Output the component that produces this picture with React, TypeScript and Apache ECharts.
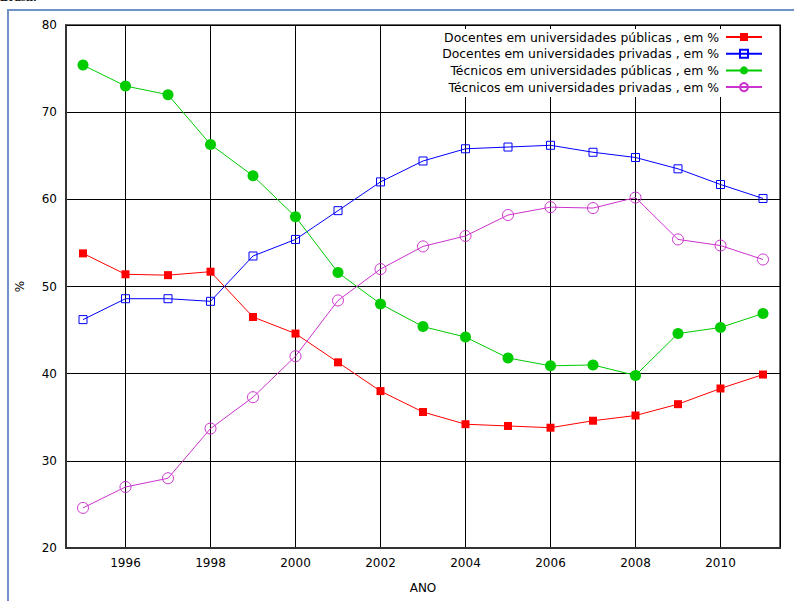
import React, { useEffect, useRef } from "react";
import * as echarts from "echarts";

// Share of staff in Brazilian universities, public vs private, 1995-2011
const years = [1995, 1996, 1997, 1998, 1999, 2000, 2001, 2002, 2003, 2004, 2005, 2006, 2007, 2008, 2009, 2010, 2011];
const docentesPublicas = [53.8, 51.4, 51.3, 51.7, 46.5, 44.6, 41.3, 38.0, 35.6, 34.2, 34.0, 33.8, 34.6, 35.2, 36.5, 38.3, 39.9];
const docentesPrivadas = [46.2, 48.6, 48.6, 48.3, 53.5, 55.4, 58.7, 62.0, 64.4, 65.8, 66.0, 66.2, 65.4, 64.8, 63.5, 61.7, 60.1];
const tecnicosPublicas = [75.4, 73.0, 72.0, 66.3, 62.7, 58.0, 51.6, 48.0, 45.4, 44.2, 41.8, 40.9, 41.0, 39.8, 44.6, 45.3, 46.9];
const tecnicosPrivadas = [24.6, 27.0, 28.0, 33.7, 37.3, 42.0, 48.4, 52.0, 54.6, 55.8, 58.2, 59.1, 59.0, 60.2, 55.4, 54.7, 53.1];

const seriesNames = [
  "Docentes em universidades públicas , em %",
  "Docentes em universidades privadas , em %",
  "Técnicos em universidades públicas , em %",
  "Técnicos em universidades privadas , em %",
];

const FONT = "DejaVu Sans";

const pairs = (vals: number[]) => years.map((y, i) => [y, vals[i]]);

export default function App() {
  const ref = useRef<HTMLDivElement>(null);

  useEffect(() => {
    if (!ref.current) return;
    const chart = echarts.init(ref.current, null, { renderer: "svg" });
    chart.setOption({
      animation: false,
      backgroundColor: "#ffffff",
      textStyle: { fontFamily: FONT },
      graphic: [
        {
          type: "text",
          left: 0,
          top: -10,
          style: { text: "Brasil.", font: "bold 13px serif", fill: "#111" },
        },
        {
          type: "rect",
          shape: { x: 8, y: 10, width: 900, height: 700 },
          style: { fill: "none", stroke: "#6f93c9", lineWidth: 2 },
          silent: true,
        },
      ],
      grid: {
        left: 66,
        top: 25,
        right: 14,
        bottom: 53,
        show: true,
        borderColor: "#333",
        borderWidth: 1.5,
        containLabel: false,
      },
      legend: {
        orient: "vertical",
        align: "right",
        right: 16,
        top: 29,
        padding: [2, 15, 4, 60],
        backgroundColor: "#ffffff",
        itemWidth: 36,
        itemHeight: 10,
        itemGap: 4.7,
        textStyle: { fontFamily: FONT, fontSize: 12.4, color: "#000", padding: [0, 2, 0, 0] },
        data: seriesNames,
      },
      xAxis: {
        type: "value",
        min: 1994.6,
        max: 2011.4,
        splitNumber: 8,
        minInterval: 2,
        maxInterval: 2,
        name: "ANO",
        nameLocation: "middle",
        nameGap: 34,
        nameTextStyle: { fontFamily: FONT, fontSize: 12, color: "#000" },
        axisLine: { show: true, lineStyle: { color: "#333", width: 2 } },
        axisTick: { show: false },
        axisLabel: {
          fontFamily: FONT,
          fontSize: 12,
          color: "#000",
          margin: 9,
          formatter: (v: number) => (Number.isInteger(v) ? String(v) : ""),
        },
        splitLine: { show: true, lineStyle: { color: "#000", width: 1 } },
      },
      yAxis: {
        type: "value",
        min: 20,
        max: 80,
        interval: 10,
        name: "%",
        nameLocation: "middle",
        nameGap: 40,
        nameTextStyle: { fontFamily: FONT, fontSize: 12, color: "#000" },
        axisLine: { show: true, lineStyle: { color: "#333", width: 2 } },
        axisTick: { show: false },
        axisLabel: { fontFamily: FONT, fontSize: 12, color: "#000", margin: 9 },
        splitLine: { show: true, lineStyle: { color: "#000", width: 1 } },
      },
      series: [
        {
          name: seriesNames[0],
          type: "line",
          data: pairs(docentesPublicas),
          symbol: "rect",
          symbolSize: 8,
          itemStyle: { color: "#ff0000" },
          lineStyle: { color: "#ff0000", width: 1 },
        },
        {
          name: seriesNames[1],
          type: "line",
          data: pairs(docentesPrivadas),
          symbol: "rect",
          symbolSize: 8,
          itemStyle: { color: "rgba(0,0,0,0)", borderColor: "#0000ff", borderWidth: 1 },
          lineStyle: { color: "#0000ff", width: 1 },
        },
        {
          name: seriesNames[2],
          type: "line",
          data: pairs(tecnicosPublicas),
          symbol: "circle",
          symbolSize: 11,
          itemStyle: { color: "#00cc00" },
          lineStyle: { color: "#00cc00", width: 1 },
        },
        {
          name: seriesNames[3],
          type: "line",
          data: pairs(tecnicosPrivadas),
          symbol: "circle",
          symbolSize: 11,
          itemStyle: { color: "rgba(0,0,0,0)", borderColor: "#cc33cc", borderWidth: 1 },
          lineStyle: { color: "#cc33cc", width: 1 },
        },
      ],
    });
    return () => chart.dispose();
  }, []);

  return (
    <div
      ref={ref}
      style={{ position: "fixed", left: 0, top: 0, width: 794, height: 601 }}
    />
  );
}
